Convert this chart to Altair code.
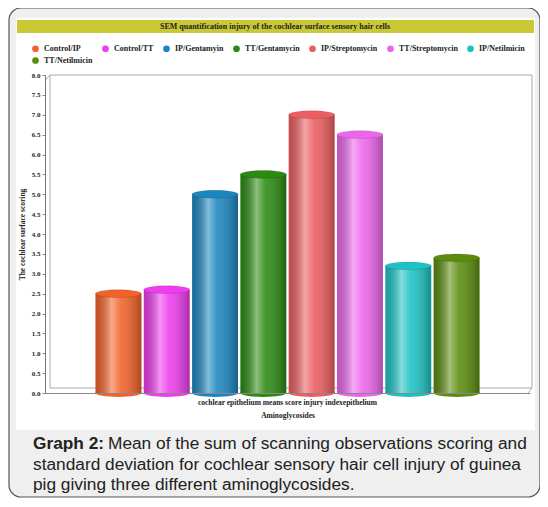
import altair as alt
import pandas as pd

# Values
treatments = ['Control/IP', 'Control/TT', 'IP/Gentamyin', 'TT/Gentamycin',
              'IP/Streptomycin', 'TT/Streptomycin', 'IP/Netilmicin', 'TT/Netilmicin']
scores = [2.5, 2.6, 5.0, 5.5, 7.0, 6.5, 3.2, 3.4]
bar_colors = ['#f2622a', '#ee3cee', '#1b86bf', '#2b8a12',
              '#ec5e60', '#ec66ec', '#1cc2c4', '#5b8c0e']
group_label = 'cochlear epithelium means score injury indexepithelium'
y_ticks = [0.0, 0.5, 1.0, 1.5, 2.0, 2.5, 3.0, 3.5, 4.0, 4.5, 5.0, 5.5, 6.0, 6.5, 7.0, 7.5, 8.0]

chart_title = 'SEM quantification injury of  the cochlear  surface sensory  hair cells'
caption_bold = 'Graph 2:'
caption_lines = [
    'Mean of the sum of scanning observations scoring and',
    'standard deviation for cochlear sensory hair cell injury of guinea',
    'pig giving three different aminoglycosides.',
]

df = pd.DataFrame({'group': group_label, 'treatment': treatments, 'score': scores})

SERIF = 'Liberation Serif'
SANS = 'Liberation Sans'
ELLIPSE = 'M -1 0 A 1 0.17 0 1 0 1 0 A 1 0.17 0 1 0 -1 0 Z'
BAR_SIZE = 2116  # width of a cylinder squared

color = alt.Color(
    'treatment:N',
    scale=alt.Scale(domain=treatments, range=bar_colors),
    sort=treatments,
    legend=alt.Legend(
        title=None, orient='none', legendX=-14, legendY=-31,
        direction='horizontal', columns=7,
        symbolType='circle', symbolSize=45,
        labelFont=SERIF, labelFontWeight='bold', labelFontSize=8,
        labelColor='#222', columnPadding=8, rowPadding=3, padding=0
    )
)
x = alt.X(
    'group:N', title='Aminoglycosides',
    scale=alt.Scale(paddingInner=0, paddingOuter=0.1315),
    axis=alt.Axis(labelAngle=0, ticks=False, labelFont=SERIF, labelFontWeight='bold',
                  labelFontSize=7.5, labelColor='#222', labelPadding=5,
                  titleFont=SERIF, titleFontWeight='bold', titleFontSize=7.5,
                  titleColor='#222', titlePadding=6, domainColor='#888', zindex=1)
)
x_off = alt.XOffset('treatment:N', sort=treatments,
                    scale=alt.Scale(paddingInner=0.05, paddingOuter=0))
y_scale = alt.Scale(domain=[0, 8], nice=False)
y_axis = alt.Axis(values=y_ticks, format='.1f', grid=False,
                  labelOverlap=False, labelFlush=False,
                  labelFont=SERIF, labelFontWeight='bold', labelFontSize=7,
                  labelColor='#222', tickSize=3, tickColor='#888', labelPadding=2,
                  titleFont=SERIF, titleFontWeight='bold', titleFontSize=7.5,
                  titleColor='#222', titlePadding=5, domainColor='#777', zindex=1)
y = alt.Y('score:Q', title='The cochlear surface  scoring', scale=y_scale, axis=y_axis)

one = pd.DataFrame({'k': [0]})

# Frame: grey rounded box, white panel, olive title bar
outer_box = alt.Chart(one).mark_rect(
    fill='#efefef', stroke='#555', strokeWidth=1.2, cornerRadius=12
).encode(x=alt.value(-36), x2=alt.value(495), y=alt.value(-67), y2=alt.value(422))
panel = alt.Chart(one).mark_rect(fill='white').encode(
    x=alt.value(-29), x2=alt.value(490), y=alt.value(-57), y2=alt.value(355))
title_bar = alt.Chart(one).mark_rect(fill='#c8c934').encode(
    x=alt.value(-28), x2=alt.value(489), y=alt.value(-55), y2=alt.value(-42))
title_text = alt.Chart(one).mark_text(
    font=SERIF, fontWeight='bold', fontSize=8, color='#222', align='center', baseline='middle'
).encode(x=alt.value(230), y=alt.value(-48.5), text=alt.value(chart_title))

# 3D box back wall
back_wall = alt.Chart(one).mark_rect(fill='white', stroke='#aaa', strokeWidth=1).encode(
    x=alt.value(5), x2=alt.value(487), y=alt.value(0), y2=alt.value(313))
floor_edge = alt.Chart(one).mark_rule(color='#aaa').encode(
    x=alt.value(487), x2=alt.value(483), y=alt.value(313), y2=alt.value(318))
wall_corner = alt.Chart(one).mark_rule(color='#aaa').encode(
    x=alt.value(0), x2=alt.value(5), y=alt.value(5), y2=alt.value(0))

# Caption
cap_bold = alt.Chart(one).mark_text(
    font=SANS, fontWeight='bold', fontSize=17.3, color='#222', align='left', baseline='alphabetic'
).encode(x=alt.value(-12), y=alt.value(374), text=alt.value(caption_bold))
cap_layers = [cap_bold]
for i, line in enumerate(caption_lines):
    cap_layers.append(alt.Chart(one).mark_text(
        font=SANS, fontSize=17.3, color='#222', align='left', baseline='alphabetic'
    ).encode(x=alt.value(63 if i == 0 else -12), y=alt.value(374 + 20.5 * i),
             text=alt.value(line)))

# Cylinders
base = alt.Chart(df).transform_calculate(floor='0')
bottom_cap = base.mark_point(shape=ELLIPSE, size=BAR_SIZE, filled=True, opacity=1).encode(
    x=x, xOffset=x_off,
    y=alt.Y('floor:Q', title='The cochlear surface  scoring', scale=y_scale, axis=y_axis),
    color=color)
bars = base.mark_bar(opacity=1).encode(x=x, xOffset=x_off, y=y, color=color)
shine = base.mark_bar(
    color=alt.Gradient(
        gradient='linear', x1=0, x2=1, y1=0, y2=0,
        stops=[alt.GradientStop(offset=0, color='rgba(0,0,0,0.18)'),
               alt.GradientStop(offset=0.35, color='rgba(255,255,255,0.45)'),
               alt.GradientStop(offset=0.55, color='rgba(255,255,255,0.12)'),
               alt.GradientStop(offset=1, color='rgba(0,0,0,0.28)')]
    )
).encode(x=x, xOffset=x_off, y=y)
top_cap = base.mark_point(shape=ELLIPSE, size=BAR_SIZE, filled=True, opacity=1,
                          stroke='#00000033', strokeWidth=0.6).encode(
    x=x, xOffset=x_off, y=y, color=color)

chart = alt.layer(
    outer_box, panel, title_bar, title_text, back_wall, floor_edge, wall_corner,
    *cap_layers, bottom_cap, bars, shine, top_cap
).properties(
    width=485, height=318,
    autosize=alt.AutoSizeParams(type='none'),
    padding={'left': 37, 'top': 67, 'right': 10, 'bottom': 106}
).configure_view(strokeWidth=0)

chart.save("out.html", embed_options={"renderer": "svg", "actions": False})
